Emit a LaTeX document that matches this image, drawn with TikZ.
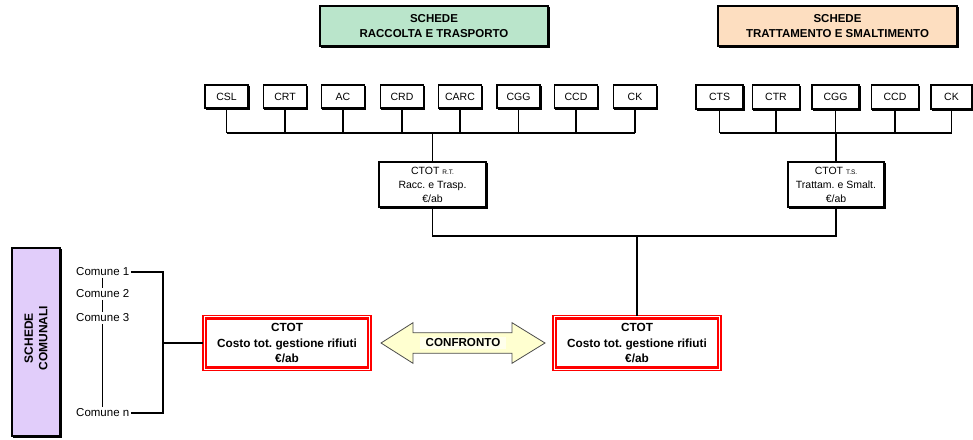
\documentclass[tikz,border=0pt]{standalone}
\usepackage{fontspec}
\setmainfont{Liberation Sans}
\definecolor{schgreen}{RGB}{186,229,203}
\definecolor{schorange}{RGB}{253,222,192}
\definecolor{schlav}{RGB}{225,205,250}
\definecolor{arrowyellow}{RGB}{255,255,208}
\definecolor{confback}{RGB}{255,255,236}
\definecolor{boxred}{RGB}{255,0,0}
\newcommand\myfs[2]{\fontsize{#1}{#2}\selectfont}
\begin{document}
\frenchspacing
\begin{tikzpicture}[x=1pt,y=-1pt,
  conn/.style={draw=black, line width=1.8pt},
  thinconn/.style={draw=black, line width=0.7pt},
  sbox/.style={draw=black, line width=1.2pt, fill=white, inner sep=0pt, outer sep=0pt,
    preaction={draw=black, fill=black, line width=1.2pt, transform canvas={xshift=1.2pt, yshift=-1.2pt}}},
  headbox/.style={sbox, minimum height=40pt, align=center, font=\bfseries\myfs{11.5}{15}},
  cbox/.style={sbox, minimum height=23pt, font=\myfs{10.5}{12}},
  totbox/.style={sbox, minimum height=45pt, align=center, font=\myfs{10.5}{14}},
  redbox/.style={draw=boxred, line width=2.4pt, fill=white, inner sep=0pt, outer sep=0pt,
    minimum width=162pt, minimum height=49pt, align=center, font=\bfseries\myfs{11.8}{15.7}},
  comlab/.style={inner sep=1.5pt, font=\myfs{11.5}{13}},
]
\useasboundingbox (0,0) rectangle (973,439);

% header boxes
\node[headbox, fill=schgreen, minimum width=228pt] (schrt) at (434,26) {SCHEDE\\RACCOLTA E TRASPORTO};
\node[headbox, fill=schorange, minimum width=239pt] (schts) at (837.5,26) {SCHEDE\\TRATTAMENTO E SMALTIMENTO};

% left group of cost boxes
\node[cbox, minimum width=43pt] (csl) at (226.5,96.5) {CSL};
\node[cbox, minimum width=43pt] (crt) at (285,96.5) {CRT};
\node[cbox, minimum width=43pt] (ac) at (343,96.5) {AC};
\node[cbox, minimum width=43pt] (crd) at (402,96.5) {CRD};
\node[cbox, minimum width=43pt] (carc) at (460,96.5) {CARC};
\node[cbox, minimum width=43pt] (cggl) at (518.5,96.5) {CGG};
\node[cbox, minimum width=43pt] (ccdl) at (576,96.5) {CCD};
\node[cbox, minimum width=43pt] (ckl) at (635,96.5) {CK};

% right group of cost boxes
\node[cbox, minimum width=47pt, minimum height=24pt] (cts) at (719.5,97) {CTS};
\node[cbox, minimum width=47pt, minimum height=24pt] (ctr) at (776,97) {CTR};
\node[cbox, minimum width=47pt, minimum height=24pt] (cggr) at (835.5,97) {CGG};
\node[cbox, minimum width=47pt, minimum height=24pt] (ccdr) at (895,97) {CCD};
\node[cbox, minimum width=41pt, minimum height=24pt] (ckr) at (951.5,97) {CK};

% totals
\node[totbox, minimum width=107pt] (totrt) at (432.5,184.5) {CTOT \raisebox{-0.6pt}{\myfs{6.5}{7}R.T.}\\Racc. e Trasp.\\€/ab};
\node[totbox, minimum width=96pt] (totts) at (836,184.5) {CTOT \raisebox{-0.6pt}{\myfs{6.5}{7}T.S.}\\Trattam. e Smalt.\\€/ab};

\coordinate (lbar) at (432.5,133);
\coordinate (rbar) at (836,133);
\coordinate (bbar) at (637,236);

\foreach \n in {csl,crt,ac,crd,carc,cggl,ccdl,ckl}{
  \draw[conn] (\n.south) -- (\n.south |- lbar);
}
\draw[conn] (csl.south |- lbar) -- (ckl.south |- lbar);
\draw[conn] (lbar) -- (totrt.north);

\foreach \n in {cts,ctr,cggr,ccdr,ckr}{
  \draw[conn] (\n.south) -- (\n.south |- rbar);
}
\draw[conn] (cts.south |- rbar) -- (ckr.south |- rbar);
\draw[conn] (rbar) -- (totts.north);

% red total boxes
\node[redbox] (redl) at (287,343) {CTOT\\Costo tot. gestione rifiuti\\€/ab};
\node[redbox] (redr) at (637,343) {CTOT\\Costo tot. gestione rifiuti\\€/ab};
\foreach \n in {redl,redr}{
  \draw[draw=boxred, line width=1.4pt] ([shift={(-3pt,3pt)}]\n.north west) rectangle ([shift={(3pt,-3pt)}]\n.south east);
}

\draw[conn] (totrt.south) |- (bbar) -| (totts.south);
\draw[conn] (bbar) -- ([yshift=3pt]redr.north);

% comparison arrow
\draw[draw=black!70, fill=arrowyellow, line width=0.8pt]
  (381,343) -- (413,322.7) -- (413,332.7) -- (512,332.7) -- (512,322.7) -- (545,343)
  -- (512,363.3) -- (512,353.3) -- (413,353.3) -- (413,363.3) -- cycle;
\node[fill=confback, inner xsep=6pt, inner ysep=1.5pt, font=\bfseries\myfs{11.6}{13}] (confronto) at (463,343) {CONFRONTO};

% schede comunali
\node[sbox, fill=schlav, minimum width=48pt, minimum height=188pt] (comunali) at (36,342) {};
\node[rotate=90, align=center, inner sep=0pt, font=\bfseries\myfs{12}{14.5}] (comtxt) at (36,338) {SCHEDE\\COMUNALI};

\node[comlab, anchor=west] (c1) at (74.5,272) {Comune 1};
\node[comlab, anchor=west] (c2) at (74.5,294) {Comune 2};
\node[comlab, anchor=west] (c3) at (74.5,318) {Comune 3};
\node[comlab, anchor=west] (cn) at (74.5,413) {Comune n};

\draw[thinconn] (c1.south) -- (c2.north);
\draw[thinconn] (c2.south) -- (c3.north);
\draw[thinconn] (c3.south) -- (cn.north);

\coordinate (bmid) at (163,343);
\draw[conn] (c1.east) -| (bmid) |- (cn.east);
\draw[conn] (bmid) -- ([xshift=-3pt]redl.west);
\end{tikzpicture}
\end{document}
